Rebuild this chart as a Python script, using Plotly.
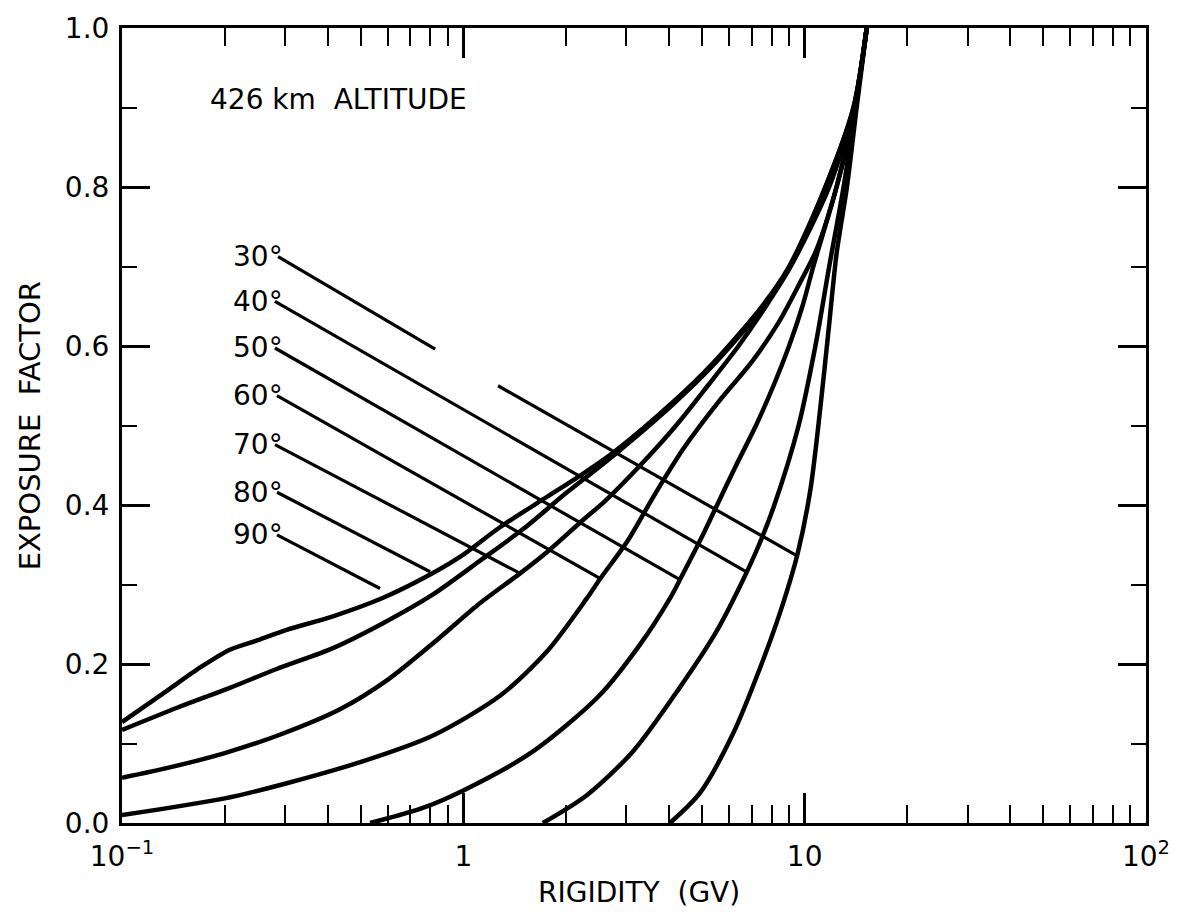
import plotly.graph_objects as go

# ---- curve data (rigidity GV, exposure factor), one curve per orbit inclination ----
rig_90 = [0.1, 0.135, 0.17, 0.207, 0.25, 0.304, 0.415, 0.58, 0.78, 0.98, 1.28, 1.71, 2.2, 2.75, 4.1, 5.4, 7.5, 9.0, 11.5, 13.9, 15.2]
exp_90 = [0.127, 0.166, 0.196, 0.218, 0.23, 0.243, 0.26, 0.283, 0.31, 0.335, 0.372, 0.407, 0.437, 0.466, 0.529, 0.579, 0.65, 0.7, 0.8, 0.9, 1.0]

rig_80 = [0.1, 0.145, 0.207, 0.285, 0.415, 0.58, 0.815, 1.12, 1.5, 2.0, 2.75, 4.1, 5.4, 7.5, 9.0, 11.5, 13.9, 15.2]
exp_80 = [0.117, 0.145, 0.17, 0.194, 0.22, 0.251, 0.2875, 0.33, 0.37, 0.415, 0.462, 0.526, 0.576, 0.647, 0.698, 0.8, 0.9, 1.0]

rig_70 = [0.1, 0.135, 0.2, 0.29, 0.435, 0.6, 0.82, 1.1, 1.466, 1.76, 2.2, 2.6, 3.3, 4.2, 5.2, 6.4, 7.7, 9.1, 11.8, 13.95, 15.2]
exp_70 = [0.057, 0.069, 0.088, 0.111, 0.143, 0.18, 0.227, 0.274, 0.314, 0.341, 0.378, 0.405, 0.45, 0.5, 0.55, 0.6, 0.65, 0.7, 0.8, 0.9, 1.0]

rig_60 = [0.1, 0.2, 0.304, 0.52, 0.815, 1.28, 1.76, 2.3, 2.52, 3.02, 3.6, 4.4, 5.6, 7.0, 8.4, 9.7, 10.8, 12.4, 14.0, 15.2]
exp_60 = [0.01, 0.031, 0.05, 0.079, 0.11, 0.16, 0.216, 0.2825, 0.3075, 0.354, 0.41, 0.47, 0.53, 0.58, 0.63, 0.68, 0.72, 0.8, 0.9, 1.0]

rig_50 = [0.533, 0.75, 1.0, 1.6, 2.5, 3.3, 4.03, 4.31, 5.0, 5.54, 6.3, 7.2, 8.1, 9.0, 9.85, 10.6, 12.4, 14.05, 15.2]
exp_50 = [0.0, 0.018, 0.041, 0.09, 0.16, 0.225, 0.2825, 0.306, 0.36, 0.4, 0.45, 0.5, 0.55, 0.6, 0.65, 0.7, 0.8, 0.9, 1.0]

rig_40 = [1.71, 2.3, 3.14, 4.3, 5.5, 6.5, 7.35, 8.15, 9.6, 10.75, 11.8, 13.0, 14.1, 15.2]
exp_40 = [0.0, 0.035, 0.09, 0.17, 0.24, 0.3, 0.35, 0.4, 0.5, 0.6, 0.7, 0.8, 0.9, 1.0]

rig_30 = [4.03, 4.93, 6.17, 7.4, 8.55, 9.55, 10.4, 11.1, 11.75, 12.4, 13.3, 14.2, 15.2]
exp_30 = [0.0, 0.0375, 0.1125, 0.195, 0.27, 0.34, 0.42, 0.52, 0.62, 0.716, 0.8, 0.9, 1.0]

# ---- curve labels and leader lines ----
labels = ["30°", "40°", "50°", "60°", "70°", "80°", "90°"]
label_y = [0.7125, 0.656, 0.5975, 0.5375, 0.476, 0.416, 0.3625]
leader_x0 = [0.2866, 0.2806, 0.2806, 0.2845, 0.2806, 0.2845, 0.2845]
leader_y0 = [0.7125, 0.656, 0.5975, 0.5375, 0.476, 0.416, 0.3625]
leader_x1 = [9.5, 6.75, 4.31, 2.52, 1.466, 0.799, 0.57]
leader_y1 = [0.336, 0.316, 0.306, 0.3075, 0.314, 0.316, 0.295]
gap30_x = [0.827, 1.264]   # break in the 30° leader
gap30_y = [0.596, 0.55]

x_tickvals = [0.1, 1, 10, 100]
x_ticktext = ["10<sup>−1</sup>", "1", "10", "10<sup>2</sup>"]
x_minor = [0.2, 0.3, 0.4, 0.5, 0.6, 0.7, 0.8, 0.9, 2, 3, 4, 5, 6, 7, 8, 9, 20, 30, 40, 50, 60, 70, 80, 90]
y_tickvals = [0.0, 0.2, 0.4, 0.6, 0.8, 1.0]
y_ticktext = ["0.0", "0.2", "0.4", "0.6", "0.8", "1.0"]

FONT = "DejaVu Sans"
fig = go.Figure()

curves = [(rig_90, exp_90), (rig_80, exp_80), (rig_70, exp_70), (rig_60, exp_60),
          (rig_50, exp_50), (rig_40, exp_40), (rig_30, exp_30)]
for rx, ey in curves:
    fig.add_trace(go.Scatter(x=rx, y=ey, mode="lines",
                             line=dict(color="black", width=4.5, shape="spline", smoothing=0.8),
                             showlegend=False, hoverinfo="skip"))

for i in range(len(labels)):
    if i == 0:
        segs = [([leader_x0[0], gap30_x[0]], [leader_y0[0], gap30_y[0]]),
                ([gap30_x[1], leader_x1[0]], [gap30_y[1], leader_y1[0]])]
    else:
        segs = [([leader_x0[i], leader_x1[i]], [leader_y0[i], leader_y1[i]])]
    for sx, sy in segs:
        fig.add_trace(go.Scatter(x=sx, y=sy, mode="lines",
                                 line=dict(color="black", width=3.2),
                                 showlegend=False, hoverinfo="skip"))

annotations = []
for lab, ly in zip(labels, label_y):
    annotations.append(dict(text=lab, x=0.159, y=ly, xref="paper", yref="paper",
                            xanchor="right", yanchor="middle", showarrow=False,
                            font=dict(family=FONT, size=28, color="black")))
annotations.append(dict(text="426 km  ALTITUDE", x=0.084, y=0.91, xref="paper", yref="paper",
                        xanchor="left", yanchor="middle", showarrow=False,
                        font=dict(family=FONT, size=28, color="black")))
annotations.append(dict(text="EXPOSURE  FACTOR", x=-0.09, y=0.5, xref="paper", yref="paper",
                        xanchor="center", yanchor="middle", textangle=-90, showarrow=False,
                        font=dict(family=FONT, size=29, color="black")))
annotations.append(dict(text="RIGIDITY  (GV)", x=0.505, y=-0.088, xref="paper", yref="paper",
                        xanchor="center", yanchor="middle", showarrow=False,
                        font=dict(family=FONT, size=28, color="black")))

fig.update_layout(
    width=1187, height=922,
    margin=dict(l=122, r=41, t=23, b=99),
    paper_bgcolor="white", plot_bgcolor="white",
    annotations=annotations,
    showlegend=False,
)
fig.update_xaxes(type="log", range=[-1, 2], showgrid=False, zeroline=False,
                 showline=True, linecolor="black", linewidth=3, mirror="allticks",
                 ticks="inside", ticklen=30, tickwidth=2.5, tickcolor="black",
                 tickvals=x_tickvals, ticktext=x_ticktext, ticklabelstandoff=6,
                 tickfont=dict(family=FONT, size=28, color="black"),
                 minor=dict(ticks="inside", ticklen=18, tickwidth=2, tickcolor="black",
                            tickvals=x_minor, showgrid=False))
fig.update_yaxes(range=[0, 1], showgrid=False, zeroline=False,
                 showline=True, linecolor="black", linewidth=3, mirror="allticks",
                 ticks="inside", ticklen=28, tickwidth=2.5, tickcolor="black",
                 tickvals=y_tickvals, ticktext=y_ticktext, ticklabelstandoff=4,
                 tickfont=dict(family=FONT, size=28, color="black"),
                 minor=dict(ticks="inside", ticklen=15, tickwidth=2, tickcolor="black",
                            dtick=0.1, showgrid=False))

fig.write_html("out.html")
